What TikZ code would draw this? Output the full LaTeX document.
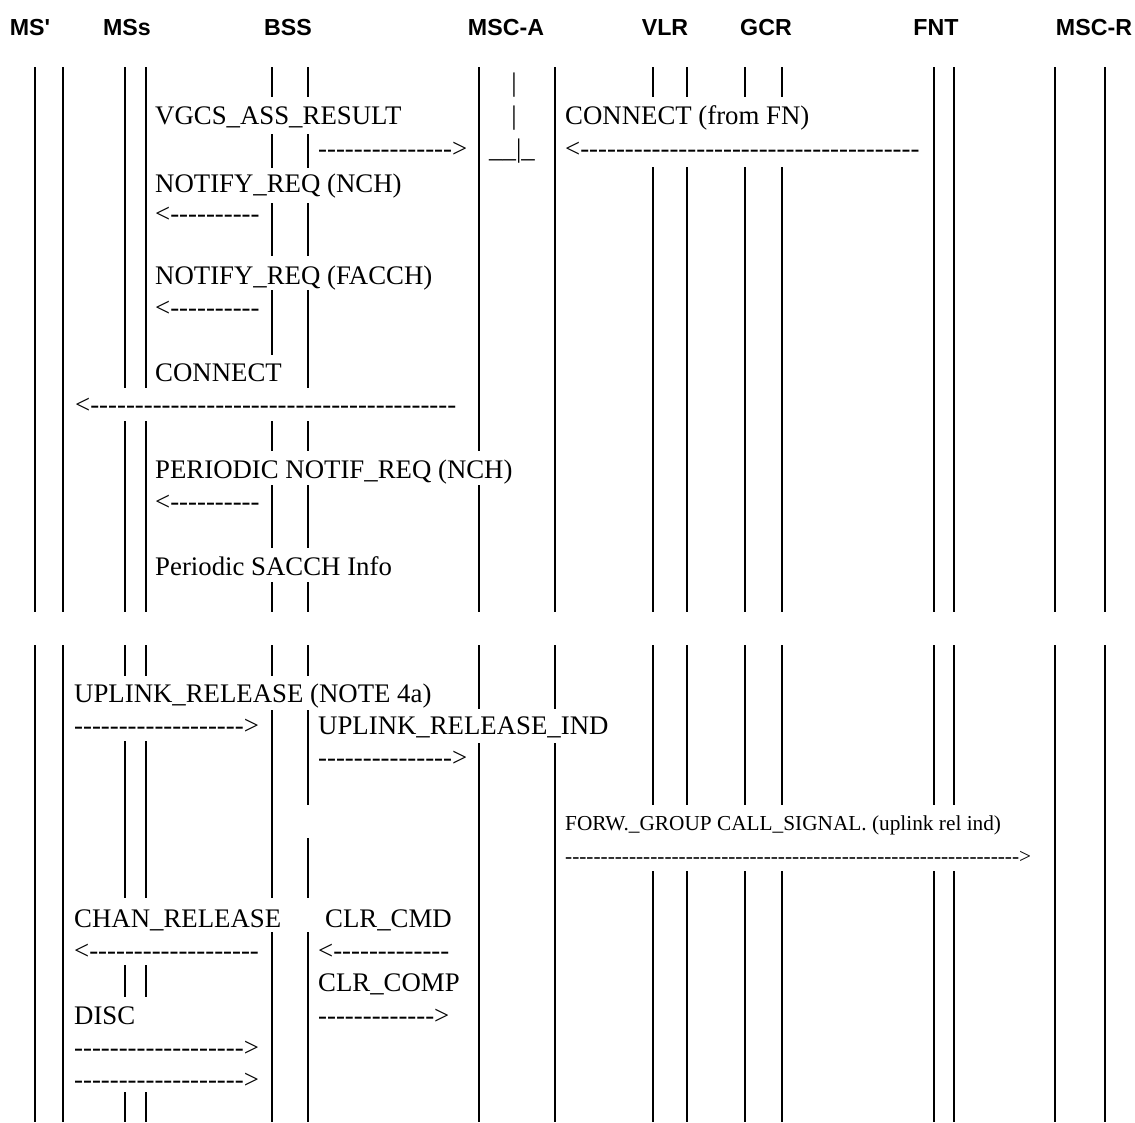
\documentclass[tikz,border=0pt]{standalone}
\usepackage{fontspec}
\setmainfont{Liberation Serif}[Ligatures=TeXOff]
\newfontfamily\headfont{Liberation Sans}[Ligatures=TeXOff]

\tikzset{
  lifeline/.style={line width=2pt},
  msg/.style={anchor=base west, inner sep=0pt, font=\fontsize{26.8}{30}\selectfont},
  smallmsg/.style={anchor=base west, inner sep=0pt, font=\fontsize{21.3}{24}\selectfont},
  entity/.style={anchor=base, inner sep=0pt, font=\headfont\bfseries\fontsize{23.2}{26}\selectfont},
}

\begin{document}
\begin{tikzpicture}[x=1pt, y=-1pt]
    \useasboundingbox (0,0) rectangle (1135,1122);

    % entities
    \node[entity] (msp) at (30,35) {MS'};
    \node[entity] (mss) at (127,35) {MSs};
    \node[entity] (bss) at (288,35) {BSS};
    \node[entity] (msca) at (506,35) {MSC-A};
    \node[entity] (vlr) at (665,35) {VLR};
    \node[entity] (gcr) at (766,35) {GCR};
    \node[entity] (fnt) at (936,35) {FNT};
    \node[entity] (mscr) at (1094,35) {MSC-R};

    % lifelines, broken where the texts run across them
    \foreach \x/\segs in {
        35/{67/612,645/1122},
        63/{67/612,645/1122},
        125/{67/388,421/612,645/676,741/898,965/997,1092/1122},
        146/{67/388,421/612,645/676,741/898,965/997,1092/1122},
        272/{67/97,134/168,203/256,290/355,421/451,485/548,582/612,645/676,710/898,932/1122},
        308/{67/97,134/168,203/256,290/388,421/451,485/548,582/612,645/676,710/805,838/898,932/1122},
        479/{67/451,485/612,645/709,743/1122},
        555/{67/612,645/709,743/1122},
        653/{67/97,167/612,645/805,871/1122},
        687/{67/97,167/612,645/805,871/1122},
        745/{67/97,167/612,645/805,871/1122},
        782/{67/97,167/612,645/805,871/1122},
        934/{67/612,645/805,871/1122},
        954/{67/612,645/805,871/1122},
        1055/{67/612,645/1122},
        1105/{67/612,645/1122}}
        \foreach \a/\b in \segs
            \draw[lifeline] (\x,\a) -- (\x,\b);

    % first part
    \node[msg, anchor=base] (bara) at (514,91) {|};
    \node[msg, anchor=base] (barb) at (514,124) {|};
    \node[msg] (barc) at (489,157) {\_\_|\_};
    \node[msg] (vgcs) at (155,124) {VGCS\_ASS\_RESULT};
    \node[msg] (vgcsarr) at (318,157) {--------------->};
    \node[msg] (fncon) at (565,124) {CONNECT (from FN)};
    \node[msg] (fnconarr) at (565,157) {<--------------------------------------};
    \node[msg] (nch) at (155,192) {NOTIFY\_REQ (NCH)};
    \node[msg] (ncharr) at (155,222.5) {<----------};
    \node[msg] (facch) at (155,284.5) {NOTIFY\_REQ (FACCH)};
    \node[msg] (faccharr) at (155,316.8) {<----------};
    \node[msg] (conn) at (155,381.4) {CONNECT};
    \node[msg] (connarr) at (75,413.7) {<-----------------------------------------};
    \node[msg] (periodic) at (155,478.3) {PERIODIC NOTIF\_REQ (NCH)};
    \node[msg] (periodicarr) at (155,510.6) {<----------};
    \node[msg] (sacch) at (155,575.2) {Periodic SACCH Info};

    % second part
    \node[msg] (uprel) at (74,702) {UPLINK\_RELEASE (NOTE 4a)};
    \node[msg] (uprelarr) at (74,734.2) {------------------->};
    \node[msg] (uprelind) at (318,734.2) {UPLINK\_RELEASE\_IND};
    \node[msg] (uprelindarr) at (318,766.4) {--------------->};
    \node[smallmsg] (forw) at (565,830.8) {FORW.\_GROUP CALL\_SIGNAL. (uplink rel ind)};
    \node[smallmsg] (forwarr) at (565,863) {---------------------------------------------------------------->};
    \node[msg] (chanrel) at (74,927.4) {CHAN\_RELEASE};
    \node[msg] (clrcmd) at (325,927.4) {CLR\_CMD};
    \node[msg] (chanrelarr) at (74,959.6) {<-------------------};
    \node[msg] (clrcmdarr) at (318,959.6) {<-------------};
    \node[msg] (clrcomp) at (318,991.8) {CLR\_COMP};
    \node[msg] (disc) at (74,1024) {DISC};
    \node[msg] (clrcomparr) at (318,1024) {------------->};
    \node[msg] (discarra) at (74,1056.2) {------------------->};
    \node[msg] (discarrb) at (74,1088.4) {------------------->};
\end{tikzpicture}
\end{document}
